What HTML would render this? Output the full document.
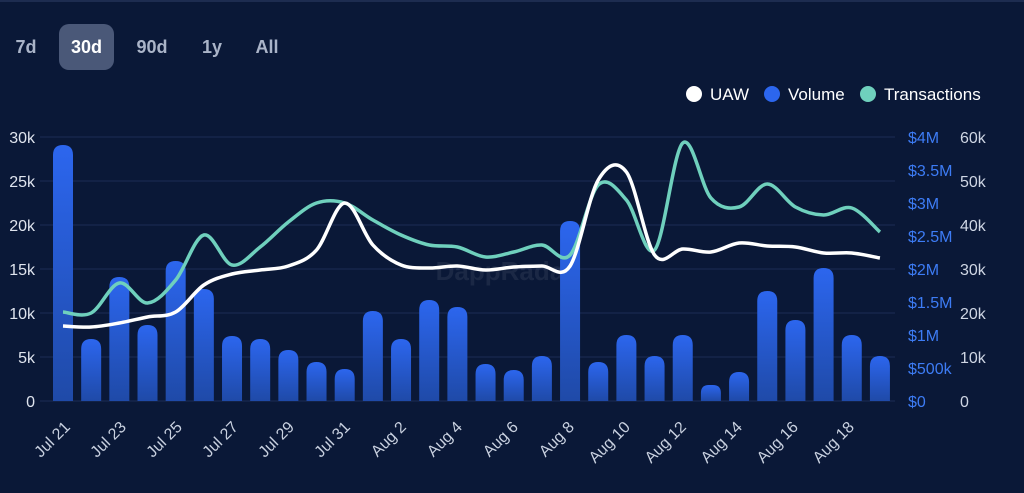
<!DOCTYPE html>
<html><head><meta charset="utf-8"><style>
html,body{margin:0;padding:0;background:#0a1837;width:1024px;height:493px;overflow:hidden;font-family:"Liberation Sans",sans-serif}
.btn{position:absolute;top:24px;height:46px;line-height:46px;font-weight:bold;font-size:18px;color:#aab4c8;text-align:center}
</style></head><body>
<div style="position:absolute;left:0;top:0;width:1024px;height:2px;background:#1d2c50"></div>
<div class="btn" style="left:6px;width:40px">7d</div>
<div class="btn" style="left:59px;width:55px;background:#4a5878;border-radius:10px;color:#fff">30d</div>
<div class="btn" style="left:130px;width:44px">90d</div>
<div class="btn" style="left:195px;width:34px">1y</div>
<div class="btn" style="left:249px;width:36px">All</div>
<svg id="s" width="1024" height="493" style="position:absolute;left:0;top:0">
<defs><linearGradient id="g" x1="0" y1="0" x2="0" y2="1"><stop offset="0" stop-color="#2c66ee"/><stop offset="1" stop-color="#1f4aa8"/></linearGradient></defs>
<g id="grid" stroke="#1c2d55" stroke-width="1"></g>
<g font-size="16" fill="#dfe4ee" text-anchor="end">
<text x="35" y="143">30k</text><text x="35" y="187">25k</text><text x="35" y="231">20k</text><text x="35" y="275">15k</text><text x="35" y="319">10k</text><text x="35" y="363">5k</text><text x="35" y="407">0</text>
</g>
<g font-size="16" fill="#3d7cf5">
<text x="908" y="143">$4M</text><text x="908" y="176">$3.5M</text><text x="908" y="209">$3M</text><text x="908" y="242">$2.5M</text><text x="908" y="275">$2M</text><text x="908" y="308">$1.5M</text><text x="908" y="341">$1M</text><text x="908" y="374">$500k</text><text x="908" y="407">$0</text>
</g>
<g font-size="16" fill="#cfd6e4">
<text x="960" y="143">60k</text><text x="960" y="187">50k</text><text x="960" y="231">40k</text><text x="960" y="275">30k</text><text x="960" y="319">20k</text><text x="960" y="363">10k</text><text x="960" y="407">0</text>
</g>
<text x="505" y="280" font-size="26" font-weight="bold" fill="#ffffff" fill-opacity="0.07" text-anchor="middle">DappRadar</text>
<g id="bars"></g>
<g id="lines"></g>
<g font-size="16" fill="#c9d1e0" text-anchor="end">
<text transform="translate(71,428) rotate(-45)">Jul 21</text>
<text transform="translate(127,428) rotate(-45)">Jul 23</text>
<text transform="translate(183,428) rotate(-45)">Jul 25</text>
<text transform="translate(239,428) rotate(-45)">Jul 27</text>
<text transform="translate(295,428) rotate(-45)">Jul 29</text>
<text transform="translate(351,428) rotate(-45)">Jul 31</text>
<text transform="translate(407,428) rotate(-45)">Aug 2</text>
<text transform="translate(463,428) rotate(-45)">Aug 4</text>
<text transform="translate(519,428) rotate(-45)">Aug 6</text>
<text transform="translate(575,428) rotate(-45)">Aug 8</text>
<text transform="translate(631,428) rotate(-45)">Aug 10</text>
<text transform="translate(687,428) rotate(-45)">Aug 12</text>
<text transform="translate(743,428) rotate(-45)">Aug 14</text>
<text transform="translate(799,428) rotate(-45)">Aug 16</text>
<text transform="translate(855,428) rotate(-45)">Aug 18</text>
</g>
<circle cx="694" cy="94" r="8" fill="#fff"/><text x="710" y="100" font-size="17" fill="#fff">UAW</text>
<circle cx="772" cy="94" r="8" fill="#2c66ee"/><text x="788" y="100" font-size="17" fill="#fff">Volume</text>
<circle cx="868" cy="94" r="8" fill="#6fd0bd"/><text x="884" y="100" font-size="17" fill="#fff">Transactions</text>
</svg>
<script>
var NS="http://www.w3.org/2000/svg";
function el(t,a,p){var e=document.createElementNS(NS,t);for(var k in a)e.setAttribute(k,a[k]);document.getElementById(p).appendChild(e);}
[137,181,225,269,313,357,401].forEach(function(y){el("line",{x1:40,x2:895,y1:y,y2:y},"grid");});
var tops=[145,339,277,325,261,289,336,339,350,362,369,311,339,300,307,364,370,356,221,362,335,356,335,385,372,291,320,268,335,356];
tops.forEach(function(t,i){var x=53+i*28.17;var h=401-t;var r=Math.min(10,h/2);
el("path",{d:"M"+x+",401 V"+(t+r)+" Q"+x+","+t+" "+(x+r)+","+t+" H"+(x+20-r)+" Q"+(x+20)+","+t+" "+(x+20)+","+(t+r)+" V401 Z",fill:"url(#g)"},"bars");});
function smooth(ys){var p=ys.map(function(y,i){return [63+i*28.17,y]});var d="M"+p[0][0]+","+p[0][1];
for(var i=0;i<p.length-1;i++){var p0=p[i-1]||p[i],p1=p[i],p2=p[i+1],p3=p[i+2]||p2;
d+=" C"+(p1[0]+(p2[0]-p0[0])/6)+","+(p1[1]+(p2[1]-p0[1])/6)+" "+(p2[0]-(p3[0]-p1[0])/6)+","+(p2[1]-(p3[1]-p1[1])/6)+" "+p2[0]+","+p2[1];}return d;}
var tx=[312,313,283,303,280,235,265,247,222,203,203,220,235,245,247,257,252,245,255,185,200,250,143,198,207,184,207,215,208,232];
var uaw=[326,327,323,317,312,285,274,270,266,250,203,245,265,268,266,270,267,266,266,180,172,255,249,252,243,246,247,253,253,258];
el("path",{d:smooth(tx),fill:"none",stroke:"#6fd0bd","stroke-width":3.5},"lines");
el("path",{d:smooth(uaw),fill:"none",stroke:"#fff","stroke-width":3.5},"lines");
</script>
</body></html>
